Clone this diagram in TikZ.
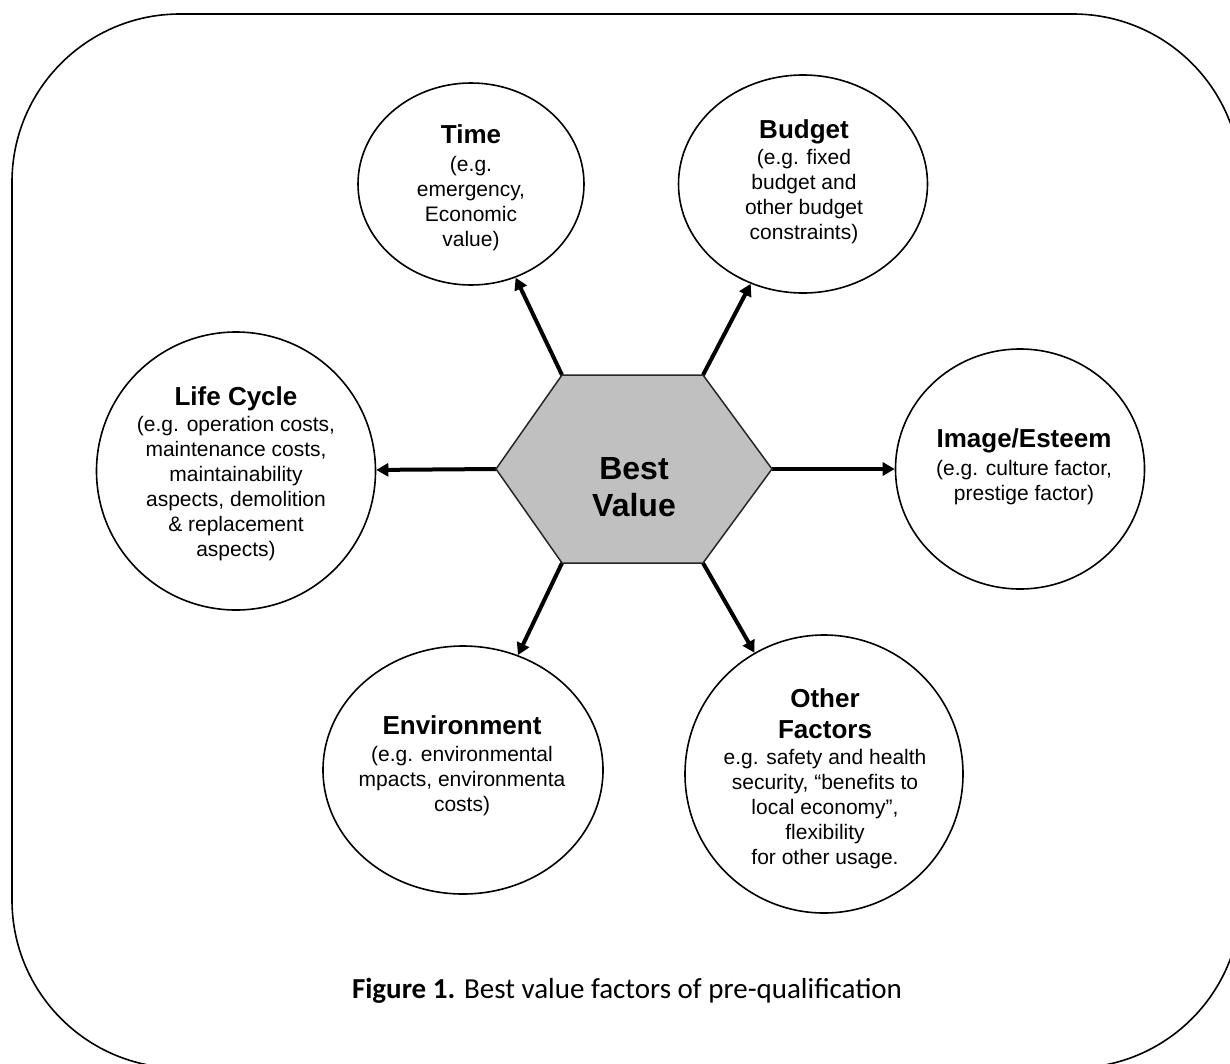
\documentclass[tikz,border=0pt]{standalone}
\usepackage{fontspec}
\setmainfont{Liberation Sans}
\newfontfamily\capfont{Carlito}
\usetikzlibrary{shapes.geometric,arrows.meta}
\newcommand\ttl[1]{{\fontsize{26}{30}\selectfont\bfseries #1}}
\definecolor{hexgray}{HTML}{C0C0C0}
\begin{document}
\begin{tikzpicture}[x=1pt,y=-1pt,
  bubble/.style={ellipse, draw=black, line width=1.6pt, inner sep=0pt},
  btext/.style={align=center, font=\fontsize{21}{25}\selectfont, inner sep=0pt},
  arr/.style={line width=4pt, -{Triangle[length=12pt,width=13pt]}},
  frame/.style={draw=black, line width=1.6pt, rounded corners=168pt},
  hexa/.style={draw=black!85, line width=1.5pt, fill=hexgray}
]
\useasboundingbox (0,0) rectangle (1230,1063);
\draw[frame] (12,14) rectangle (1241,1068);

% outer bubbles
\node[bubble, minimum width=226pt, minimum height=202pt] (time) at (471,184) {};
\node[btext] (timet) at (471,188) {\ttl{Time}\\[3pt](e.g.\\emergency,\\Economic\\value)};

\node[bubble, minimum width=249pt, minimum height=218pt] (budget) at (803,184) {};
\node[btext] (budgett) at (804,182) {\ttl{Budget}\\[1pt](e.g. fixed\\budget and\\other budget\\constraints)};

\node[bubble, minimum width=279pt, minimum height=278pt] (life) at (236,471) {};
\node[btext] (lifet) at (236,474) {\ttl{Life Cycle}\\[1pt](e.g. operation costs,\\maintenance costs,\\maintainability\\aspects, demolition\\\& replacement\\aspects)};

\node[bubble, minimum width=249pt, minimum height=240pt] (image) at (1020,469) {};
\node[btext] (imaget) at (1024,467) {\ttl{Image/Esteem}\\[3pt](e.g. culture factor,\\prestige factor)};

\node[bubble, minimum width=280pt, minimum height=248pt] (env) at (463,770) {};
\node[btext] (envt) at (462,766) {\ttl{Environment}\\[2pt](e.g. environmental\\mpacts, environmenta\\costs)};

\node[bubble, minimum width=278pt, minimum height=278pt] (other) at (824,774) {};
\node[btext] (othert) at (825,779) {\ttl{Other}\\[6pt]\ttl{Factors}\\[1pt]e.g. safety and health\\security, “benefits to\\local economy”,\\flexibility\\for other usage.};

% hexagon corners
\coordinate (h1) at (562,375);
\coordinate (h2) at (703,375);
\coordinate (h3) at (772,469);
\coordinate (h4) at (703,563);
\coordinate (h5) at (562,563);
\coordinate (h6) at (496,469);

% arrows
\draw[arr] (h1) -- (time);
\draw[arr] (h2) -- (budget);
\draw[arr] (h6) -- (life);
\draw[arr] (h3) -- (image);
\draw[arr] (h5) -- (env);
\draw[arr] (h4) -- (other);

\draw[hexa] (h1) -- (h2) -- (h3) -- (h4) -- (h5) -- (h6) -- cycle;
\node[align=center, inner sep=0pt, font=\fontsize{32}{37}\selectfont\bfseries] (best) at (634,487) {Best\\Value};

\node[font=\capfont\fontsize{29}{35}\selectfont, anchor=base, inner sep=0pt] (cap) at (627,998) {\textbf{Figure 1.} Best value factors of pre-qualification};
\end{tikzpicture}
\end{document}
